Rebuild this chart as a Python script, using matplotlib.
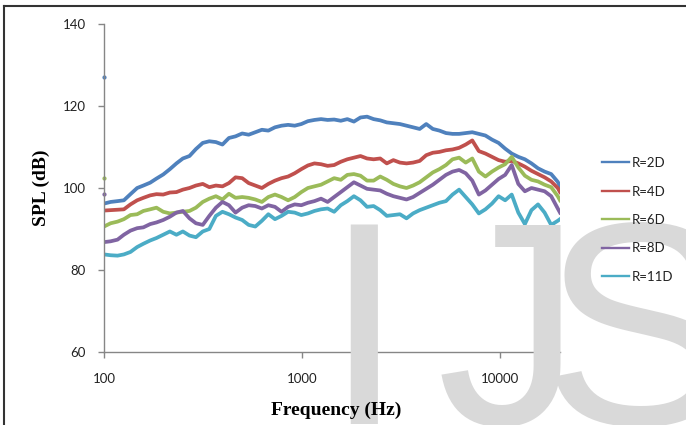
import matplotlib
matplotlib.use("Agg")
import matplotlib.pyplot as plt
from matplotlib.lines import Line2D

# frequency grid (Hz)
freq = [100, 108, 117, 126, 136, 147, 158, 171, 184, 199,
        215, 232, 250, 270, 291, 315, 340, 367, 396, 427,
        461, 498, 537, 580, 626, 675, 729, 787, 849, 917,
        990, 1069, 1153, 1245, 1344, 1450, 1566, 1690, 1824, 1969,
        2125, 2294, 2476, 2673, 2885, 3114, 3361, 3628, 3916, 4227,
        4563, 4925, 5316, 5738, 6194, 6686, 7217, 7790, 8408, 9076,
        9797, 10575, 11414, 12320, 13298, 14354, 15494, 16724, 18052, 19485,
        20000]

spl_2d = [96.2, 96.6, 96.8, 97.0, 98.5, 100.0, 100.6, 101.3, 102.3, 103.3,
          104.6, 106.0, 107.2, 107.8, 109.5, 111.0, 111.4, 111.2, 110.6, 112.2,
          112.6, 113.3, 113.0, 113.6, 114.2, 114.0, 114.8, 115.2, 115.4, 115.2,
          115.6, 116.3, 116.6, 116.8, 116.6, 116.7, 116.4, 116.8, 116.2, 117.2,
          117.4, 116.8, 116.5, 116.0, 115.8, 115.6, 115.2, 114.8, 114.4, 115.6,
          114.4, 114.0, 113.4, 113.2, 113.2, 113.4, 113.6, 113.2, 112.8, 111.8,
          111.0, 109.6, 108.4, 107.6, 107.0, 106.0, 104.8, 104.0, 103.4, 101.5,
          100.4]

spl_4d = [94.5, 94.6, 94.7, 94.8, 96.0, 97.0, 97.6, 98.2, 98.5, 98.4,
          98.9, 99.0, 99.6, 100.0, 100.6, 101.0, 100.2, 100.6, 100.4, 101.2,
          102.6, 102.4, 101.2, 100.6, 100.0, 101.0, 101.8, 102.4, 102.8, 103.6,
          104.6, 105.5, 106.0, 105.8, 105.4, 105.6, 106.4, 107.0, 107.4, 107.8,
          107.2, 107.0, 107.2, 106.0, 106.8, 106.2, 106.0, 106.2, 106.6, 108.0,
          108.6, 108.8, 109.2, 109.4, 109.8, 110.6, 111.6, 109.0, 108.4, 107.6,
          106.8, 106.4, 106.6, 106.0, 105.2, 104.2, 103.4, 102.6, 101.6, 100.0,
          99.0]

spl_6d = [90.6, 91.4, 91.8, 92.4, 93.4, 93.6, 94.4, 94.8, 95.2, 94.2,
          93.8, 94.0, 94.2, 94.4, 95.2, 96.6, 97.4, 98.0, 97.2, 98.6,
          97.6, 97.8, 97.6, 97.2, 96.6, 97.8, 98.4, 97.8, 97.0, 97.8,
          99.0, 100.0, 100.4, 100.8, 101.6, 102.4, 102.0, 103.2, 103.4, 103.0,
          101.8, 101.8, 102.8, 102.0, 101.0, 100.4, 100.0, 100.6, 101.4, 102.6,
          103.8, 104.6, 105.6, 107.0, 107.4, 106.2, 107.2, 104.0, 102.8, 104.0,
          105.0, 105.8, 107.6, 105.0, 103.0, 102.0, 101.6, 100.8, 100.2, 98.0,
          97.0]

spl_8d = [86.8, 87.0, 87.4, 88.6, 89.6, 90.2, 90.4, 91.2, 91.6, 92.2,
          93.0, 94.0, 94.4, 92.6, 91.4, 91.0, 93.2, 95.2, 96.6, 95.8,
          94.0, 95.2, 95.8, 95.6, 95.0, 95.8, 95.4, 94.2, 95.4, 96.0,
          95.8, 96.4, 96.8, 97.4, 96.6, 97.8, 99.0, 100.2, 101.4, 100.6,
          99.8, 99.6, 99.4, 98.6, 98.0, 97.6, 97.2, 97.8, 98.8, 99.8,
          100.8, 102.0, 103.2, 104.0, 104.4, 103.6, 101.8, 98.4, 99.4, 100.8,
          102.2, 103.2, 105.6, 101.0, 99.2, 100.0, 99.6, 99.2, 98.0, 95.0,
          94.0]

spl_11d = [83.8, 83.6, 83.5, 83.8, 84.4, 85.6, 86.4, 87.2, 87.8, 88.6,
           89.4, 88.6, 89.4, 88.4, 88.0, 89.4, 90.0, 93.2, 94.2, 93.6,
           92.8, 92.2, 91.0, 90.6, 92.0, 93.6, 92.4, 93.2, 94.2, 94.0,
           93.4, 93.8, 94.4, 94.8, 95.0, 94.2, 95.8, 96.8, 98.0, 97.0,
           95.4, 95.6, 94.6, 93.2, 93.4, 93.6, 92.6, 93.8, 94.6, 95.2,
           95.8, 96.4, 96.8, 98.4, 99.6, 97.8, 96.0, 93.8, 94.8, 96.2,
           98.0, 97.0, 98.4, 94.0, 91.2, 94.6, 96.0, 94.0, 91.0, 92.0,
           92.4]

# stray first samples sitting on the y axis
first_2d = 127.0
first_6d = 102.5
first_8d = 98.5

labels = ["R=2D", "R=4D", "R=6D", "R=8D", "R=11D"]
colors = ["#4F81BD", "#C0504D", "#9BBB59", "#8064A2", "#4BACC6"]
series = [spl_2d, spl_4d, spl_6d, spl_8d, spl_11d]

fig = plt.figure(figsize=(6.86, 4.25), dpi=100)
ax = fig.add_axes([104/686, 73/425, 456/686, 328/425])

for vals, col in zip(series, colors):
    ax.plot(freq, vals, color=col, lw=2.7, solid_joinstyle="round")

ax.plot([freq[0]], [first_2d], "o", color=colors[0], ms=2, clip_on=False)
ax.plot([freq[0]], [first_6d], "o", color=colors[2], ms=2, clip_on=False)
ax.plot([freq[0]], [first_8d], "o", color=colors[3], ms=2, clip_on=False)

ax.set_xscale("log")
ax.set_xlim(100, 20000)
ax.set_ylim(60, 140)
ax.set_yticks([60, 80, 100, 120, 140])
ax.set_xticks([100, 1000, 10000])
ax.set_xticklabels(["100", "1000", "10000"])
ax.minorticks_off()

for s in ["top", "right"]:
    ax.spines[s].set_visible(False)
for s in ["left", "bottom"]:
    ax.spines[s].set_color("#868686")
    ax.spines[s].set_linewidth(1)

ax.tick_params(axis="both", colors="#868686", length=4, width=1,
               labelcolor="#222222", labelsize=9.5)
ax.tick_params(axis="x", pad=11)
ax.tick_params(axis="y", pad=9)
for t in ax.get_xticklabels() + ax.get_yticklabels():
    t.set_family("Lato")

ax.set_xlabel("Frequency (Hz)", family="Liberation Serif", fontweight="bold",
              fontsize=14)
ax.xaxis.set_label_coords(0.51, -0.152)
ax.set_ylabel("SPL (dB)", family="Liberation Serif", fontweight="bold",
              fontsize=14)
ax.yaxis.set_label_coords(-0.118, 0.5)
# axis texts stay above the watermark, spines go under it
ax.xaxis.set_zorder(3)
ax.yaxis.set_zorder(3)

handles = [Line2D([], [], color=c, lw=1.7) for c in colors]
leg = fig.legend(handles, labels, loc="center left",
                 bbox_to_anchor=(595/686, 1 - 220/425), frameon=False,
                 borderpad=0, handlelength=2.1, handletextpad=0.15,
                 labelspacing=1.25, prop={"family": "Lato", "size": 9.5})
for t in leg.get_texts():
    t.set_color("#222222")

# outer frame (top and left edges)
fig.add_artist(Line2D([4/686, 4/686], [0, 1 - 6/425], color="#333333",
                      lw=1.5, transform=fig.transFigure))
fig.add_artist(Line2D([4/686, 1], [1 - 6/425, 1 - 6/425], color="#333333",
                      lw=1.5, transform=fig.transFigure))

# watermark letters
wm = dict(family="Liberation Sans", fontsize=209, color="#d9d9d9",
          ha="left", va="baseline", zorder=2.6, clip_on=False,
          transform=fig.transFigure)
ax.text(323/686, 1/425, "I", **wm)
ax.text(437/686, 1/425, "J", **wm)
ax.text(542/686, 1/425, "S", **wm)

fig.savefig("out.png", dpi=100)
